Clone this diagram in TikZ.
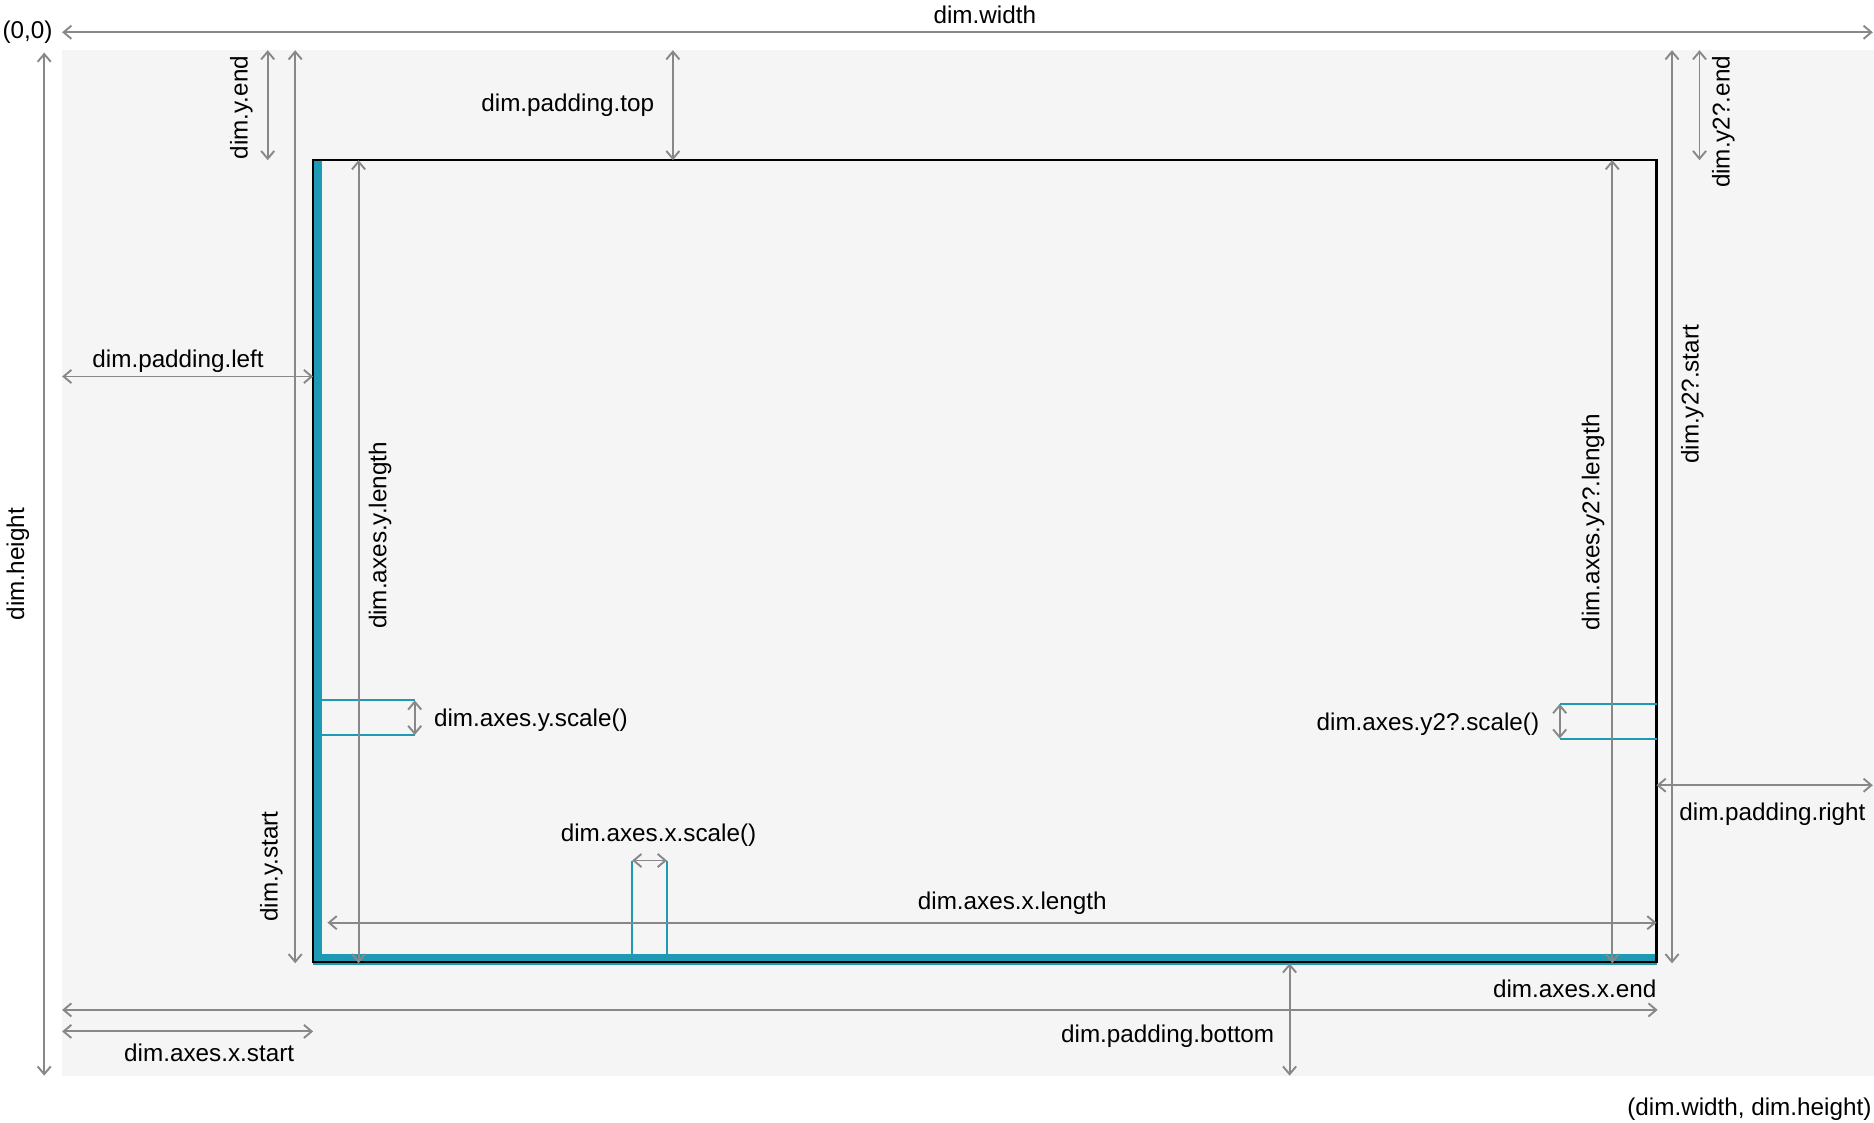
\documentclass[tikz,border=0pt]{standalone}
\usepackage{fontspec}
\setmainfont{Liberation Sans}
\usetikzlibrary{arrows.meta}
\definecolor{teal1}{HTML}{1F9AB5}
\definecolor{arr}{HTML}{888888}
\definecolor{bgc}{HTML}{F5F5F5}
\tikzset{
  dimarrow/.style={draw=arr, line width=1.6pt, {Straight Barb[length=6.5pt,width=11pt]}-{Straight Barb[length=6.5pt,width=11pt]}},
  tick/.style={draw=teal1, line width=1.5pt},
  lbl/.style={inner sep=0pt, font=\fontsize{20.3}{24}\selectfont, text=black},
  vlbl/.style={lbl, rotate=90}
}
\begin{document}
\begin{tikzpicture}[x=1pt,y=-1pt]
\useasboundingbox (0,0) rectangle (1568,939.6);
\fill[white] (0,0) rectangle (1568,939.6);
% background canvas
\fill[bgc] (52,42) rectangle (1568,900);
% plot area with teal axes
\fill[teal1] (262,134) rectangle (269.5,805);
\fill[teal1] (262,798.5) rectangle (1386,805);
\draw[teal1, line width=1pt] (262,806.5) -- (1386,806.5);
\draw[black, line width=1.8pt] (262,134) rectangle (1386,805);

% coordinates
\coordinate (wL) at (52,27);   \coordinate (wR) at (1567,27);
\coordinate (hT) at (37,44);   \coordinate (hB) at (37,900);
\coordinate (yeT) at (224,42); \coordinate (yeB) at (224,134);
\coordinate (ysT) at (247,42); \coordinate (ysB) at (247,806);
\coordinate (ptT) at (563,42); \coordinate (ptB) at (563,134);
\coordinate (plL) at (52,315); \coordinate (plR) at (262,315);
\coordinate (ylT) at (300,134); \coordinate (ylB) at (300,806);
\coordinate (ysc0) at (269,586); \coordinate (ysc1) at (347,586);
\coordinate (ysc2) at (269,615); \coordinate (ysc3) at (347,615);
\coordinate (xsc0) at (529,720); \coordinate (xsc1) at (529,799);
\coordinate (xsc2) at (558,720); \coordinate (xsc3) at (558,799);
\coordinate (xlL) at (274,772); \coordinate (xlR) at (1386,772);
\coordinate (xsL) at (52,863);  \coordinate (xsR) at (262,863);
\coordinate (xeL) at (52,845);  \coordinate (xeR) at (1387,845);
\coordinate (pbT) at (1079,806); \coordinate (pbB) at (1079,900);
\coordinate (y2lT) at (1349,134); \coordinate (y2lB) at (1349,806);
\coordinate (y2sT) at (1399,42);  \coordinate (y2sB) at (1399,806);
\coordinate (y2eT) at (1422,42);  \coordinate (y2eB) at (1422,134);
\coordinate (y2c0) at (1305,589); \coordinate (y2c1) at (1386,589);
\coordinate (y2c2) at (1305,618); \coordinate (y2c3) at (1386,618);
\coordinate (prL) at (1386,657); \coordinate (prR) at (1567,657);

% teal scale ticks
\draw[tick] (ysc0) -- (ysc1);
\draw[tick] (ysc2) -- (ysc3);
\draw[tick] (xsc0) -- (xsc1);
\draw[tick] (xsc2) -- (xsc3);
\draw[tick] (y2c0) -- (y2c1);
\draw[tick] (y2c2) -- (y2c3);

% dimension arrows
\draw[dimarrow] (wL) -- (wR);
\draw[dimarrow] (hT) -- (hB);
\draw[dimarrow] (yeT) -- (yeB);
\draw[dimarrow] (ysT) -- (ysB);
\draw[dimarrow] (ptT) -- (ptB);
\draw[dimarrow] (plL) -- (plR);
\draw[dimarrow] (ylT) -- (ylB);
\draw[dimarrow] (ysc1) -- (ysc3);
\draw[dimarrow] (xsc0) -- (xsc2);
\draw[dimarrow] (xlL) -- (xlR);
\draw[dimarrow] (xsL) -- (xsR);
\draw[dimarrow] (xeL) -- (xeR);
\draw[dimarrow] (pbT) -- (pbB);
\draw[dimarrow] (y2lT) -- (y2lB);
\draw[dimarrow] (y2sT) -- (y2sB);
\draw[dimarrow] (y2eT) -- (y2eB);
\draw[dimarrow] (y2c0) -- (y2c2);
\draw[dimarrow] (prL) -- (prR);

% labels
\node[lbl, anchor=west] (t00) at (2,27) {(0,0)};
\node[lbl] (tw) at (824,12) {dim.width};
\node[vlbl] (th) at (15,472) {dim.height};
\node[vlbl] (tye) at (202,90) {dim.y.end};
\node[vlbl] (tys) at (227,725) {dim.y.start};
\node[lbl] (tpt) at (475,88) {dim.padding.top};
\node[lbl] (tpl) at (149,302) {dim.padding.left};
\node[vlbl] (tyl) at (318,448) {dim.axes.y.length};
\node[lbl, anchor=west] (tysc) at (363,603) {dim.axes.y.scale()};
\node[lbl] (txsc) at (551,699) {dim.axes.x.scale()};
\node[lbl] (txl) at (847,756) {dim.axes.x.length};
\node[lbl] (txs) at (175,881) {dim.axes.x.start};
\node[lbl, anchor=east] (txe) at (1386,827) {dim.axes.x.end};
\node[lbl] (tpb) at (977,867) {dim.padding.bottom};
\node[vlbl] (ty2l) at (1333,437) {dim.axes.y2?.length};
\node[vlbl] (ty2s) at (1416,330) {dim.y2?.start};
\node[vlbl] (ty2e) at (1442,102) {dim.y2?.end};
\node[lbl, anchor=east] (ty2sc) at (1288,606) {dim.axes.y2?.scale()};
\node[lbl] (tpr) at (1483,681) {dim.padding.right};
\node[lbl, anchor=east] (twh) at (1566,928) {(dim.width, dim.height)};
\end{tikzpicture}
\end{document}
